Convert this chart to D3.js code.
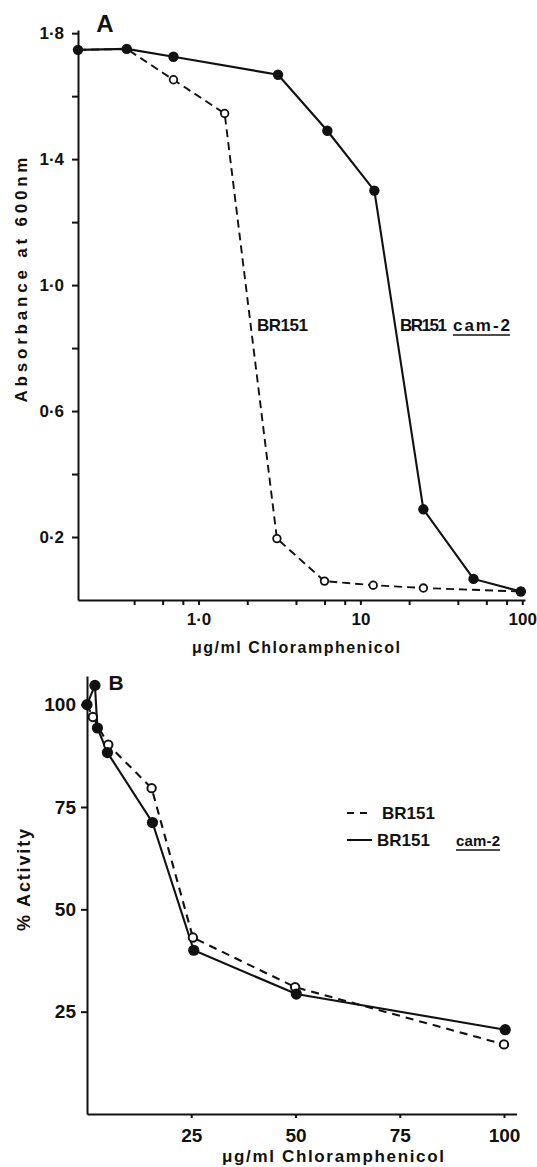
<!DOCTYPE html>
<html lang="en">
<head>
<meta charset="UTF-8">
<title>Chloramphenicol sensitivity</title>
<script src="https://d3js.org/d3.v7.min.js"></script>
<style>
  body { margin: 0; background: #fff; }
  svg { display: block; font-family: "Liberation Sans", Arial, sans-serif; font-weight: bold; }
  .axis path, .axis line { stroke: #111; stroke-width: 2; }
  .axis text { fill: #111; font-family: "Liberation Sans", Arial, sans-serif; font-weight: bold; }
  .lbl { fill: #111; }
</style>
</head>
<body>
<svg id="chart" width="537" height="1167"></svg>
<script>
// Panel A: absorbance vs chloramphenicol (log scale)
const brConcA  = [0.18, 0.36, 0.7, 1.45, 3.05, 6.0, 12.0, 24.5, 98];
const brAbsA   = [1.747, 1.75, 1.652, 1.545, 0.195, 0.06, 0.047, 0.038, 0.027];
const camConcA = [0.18, 0.36, 0.7, 3.1, 6.25, 12.2, 24.5, 50, 98];
const camAbsA  = [1.747, 1.75, 1.725, 1.668, 1.49, 1.30, 0.288, 0.067, 0.027];
const absTicks  = [0.2, 0.4, 0.6, 0.8, 1.0, 1.2, 1.4, 1.6, 1.8];
const absLabels = [0.2, 0.6, 1.0, 1.4, 1.8];
const concTicksA  = [0.4, 0.6, 0.8, 1, 2, 4, 6, 8, 10, 20, 40, 60, 80, 100];
const concLabelsA = {1: "1·0", 10: "10", 100: "100"};

// Panel B: % activity vs chloramphenicol (linear)
const brConcB  = [0, 1.4, 5.1, 15.5, 25.4, 49.9, 100];
const brActB   = [100, 97, 90.2, 79.6, 43.1, 31, 17];
const camConcB = [0, 1.9, 2.5, 4.9, 15.7, 25.6, 50.2, 100.3];
const camActB  = [100, 104.7, 94.3, 88.3, 71.2, 40, 29.3, 20.6];
const actTicks   = [25, 50, 75, 100];
const concTicksB = [25, 50, 75, 100];

const svg = d3.select("#chart");

// ---------- panel A ----------
const xA = d3.scaleLog().domain([0.18, 104]).range([78, 525]);
const yA = d3.scaleLinear().domain([0, 1.81]).range([600, 30]);

svg.append("g").attr("class", "axis")
  .attr("transform", "translate(78,0)")
  .call(d3.axisLeft(yA).tickValues(absTicks).tickSize(6).tickSizeOuter(0).tickPadding(8)
    .tickFormat(d => absLabels.some(v => Math.abs(v - d) < 1e-6) ? d.toFixed(1).replace(".", "·") : ""))
  .selectAll("text").style("font-size", "17px");

svg.append("g").attr("class", "axis")
  .attr("transform", "translate(0,600)")
  .call(d3.axisBottom(xA).tickValues(concTicksA).tickSize(5).tickSizeOuter(0).tickPadding(8)
    .tickFormat(d => concLabelsA[d] || ""))
  .selectAll("text").style("font-size", "17px");

const lineA = d3.line().x(d => xA(d[0])).y(d => yA(d[1]));
const brA  = brConcA.map((c, i) => [c, brAbsA[i]]);
const camA = camConcA.map((c, i) => [c, camAbsA[i]]);

svg.append("path").datum(brA).attr("d", lineA)
  .attr("fill", "none").attr("stroke", "#111").attr("stroke-width", 1.9)
  .attr("stroke-dasharray", "8,5");
svg.append("path").datum(camA).attr("d", lineA)
  .attr("fill", "none").attr("stroke", "#111").attr("stroke-width", 2.1);

svg.selectAll(".openA").data(brA.slice(2, -1)).enter().append("circle")
  .attr("cx", d => xA(d[0])).attr("cy", d => yA(d[1])).attr("r", 3.8)
  .attr("fill", "#fff").attr("stroke", "#111").attr("stroke-width", 1.8);
svg.selectAll(".fillA").data(camA).enter().append("circle")
  .attr("cx", d => xA(d[0])).attr("cy", d => yA(d[1])).attr("r", 5.2)
  .attr("fill", "#111");

svg.append("text").attr("class", "lbl").attr("x", 105).attr("y", 32)
  .attr("text-anchor", "middle").style("font-size", "24px").text("A");

svg.append("text").attr("class", "lbl").attr("x", 257).attr("y", 331)
  .style("font-size", "17px").attr("textLength", 51).text("BR151");
svg.append("text").attr("class", "lbl").attr("x", 400).attr("y", 331)
  .style("font-size", "17px").attr("textLength", 47).text("BR151");
svg.append("text").attr("class", "lbl").attr("x", 453).attr("y", 331)
  .style("font-size", "17px").attr("textLength", 57).text("cam-2");
svg.append("line").attr("x1", 453).attr("x2", 510).attr("y1", 335).attr("y2", 335)
  .attr("stroke", "#111").attr("stroke-width", 1.5);

svg.append("text").attr("class", "lbl")
  .attr("transform", "translate(27,280) rotate(-90)")
  .attr("text-anchor", "middle").style("font-size", "17px")
  .attr("textLength", 245).text("Absorbance at 600nm");

svg.append("text").attr("class", "lbl").attr("x", 296).attr("y", 653)
  .attr("text-anchor", "middle").style("font-size", "16px")
  .attr("textLength", 208).text("μg/ml  Chloramphenicol");

// ---------- panel B ----------
const xB = d3.scaleLinear().domain([0, 103]).range([87, 516.5]);
const yB = d3.scaleLinear().domain([0, 107]).range([1114, 676]);

svg.append("g").attr("class", "axis")
  .attr("transform", "translate(87,0)")
  .call(d3.axisLeft(yB).tickValues(actTicks).tickSize(6).tickSizeOuter(0).tickPadding(5))
  .selectAll("text").style("font-size", "19px");

svg.append("g").attr("class", "axis")
  .attr("transform", "translate(0,1114)")
  .call(d3.axisBottom(xB).tickValues(concTicksB).tickSize(4).tickSizeOuter(0).tickPadding(11))
  .selectAll("text").style("font-size", "19px");

const lineB = d3.line().x(d => xB(d[0])).y(d => yB(d[1]));
const brB  = brConcB.map((c, i) => [c, brActB[i]]);
const camB = camConcB.map((c, i) => [c, camActB[i]]);

svg.append("path").datum(brB).attr("d", lineB)
  .attr("fill", "none").attr("stroke", "#111").attr("stroke-width", 2.1)
  .attr("stroke-dasharray", "8,6");
svg.append("path").datum(camB).attr("d", lineB)
  .attr("fill", "none").attr("stroke", "#111").attr("stroke-width", 2.1);

svg.selectAll(".openB").data(brB.slice(1)).enter().append("circle")
  .attr("cx", d => xB(d[0])).attr("cy", d => yB(d[1])).attr("r", 4.2)
  .attr("fill", "#fff").attr("stroke", "#111").attr("stroke-width", 2);
svg.selectAll(".fillB").data(camB).enter().append("circle")
  .attr("cx", d => xB(d[0])).attr("cy", d => yB(d[1])).attr("r", 5.6)
  .attr("fill", "#111");

svg.append("text").attr("class", "lbl").attr("x", 116).attr("y", 690)
  .attr("text-anchor", "middle").style("font-size", "21px").text("B");

// legend
svg.append("line").attr("x1", 347).attr("x2", 371).attr("y1", 813).attr("y2", 813)
  .attr("stroke", "#111").attr("stroke-width", 2).attr("stroke-dasharray", "7,6");
svg.append("text").attr("class", "lbl").attr("x", 382).attr("y", 819)
  .style("font-size", "17px").attr("textLength", 53).text("BR151");
svg.append("line").attr("x1", 347).attr("x2", 372).attr("y1", 840).attr("y2", 840)
  .attr("stroke", "#111").attr("stroke-width", 2);
svg.append("text").attr("class", "lbl").attr("x", 377).attr("y", 846)
  .style("font-size", "17px").attr("textLength", 53).text("BR151");
svg.append("text").attr("class", "lbl").attr("x", 456).attr("y", 846)
  .style("font-size", "15px").attr("textLength", 44).text("cam-2");
svg.append("line").attr("x1", 456).attr("x2", 500).attr("y1", 850).attr("y2", 850)
  .attr("stroke", "#111").attr("stroke-width", 1.5);

svg.append("text").attr("class", "lbl")
  .attr("transform", "translate(30,880) rotate(-90)")
  .attr("text-anchor", "middle").style("font-size", "18px")
  .attr("textLength", 102).text("% Activity");

svg.append("text").attr("class", "lbl").attr("x", 333).attr("y", 1162)
  .attr("text-anchor", "middle").style("font-size", "17px")
  .attr("textLength", 222).text("μg/ml  Chloramphenicol");
</script>
</body>
</html>
